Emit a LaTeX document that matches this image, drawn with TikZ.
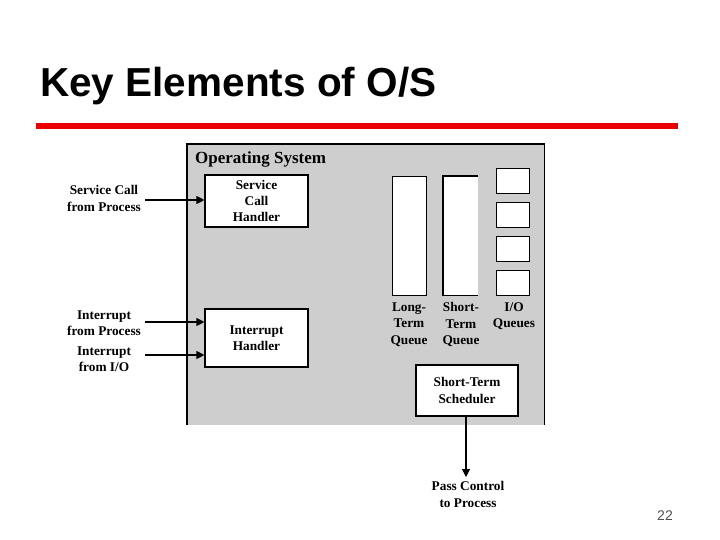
\documentclass[tikz,border=0pt]{standalone}
\usepackage{fontspec}
\setmainfont{Liberation Serif}
\setsansfont{Liberation Sans}
\usetikzlibrary{arrows.meta}
\definecolor{osgray}{RGB}{206,206,206}
\definecolor{barred}{RGB}{235,0,0}
\definecolor{numgray}{RGB}{80,80,80}
\tikzset{
  box/.style={draw=black, fill=white, line width=1.1pt, inner sep=0pt},
  lbl/.style={font=\bfseries\fontsize{13.3}{16.3}\selectfont, align=center, inner sep=0pt},
  arr/.style={line width=1.1pt, -{Triangle[length=8pt,width=8pt]}},
}
\begin{document}
\begin{tikzpicture}[x=1pt,y=-1pt]
\useasboundingbox (0,0) rectangle (720,540);
% title
\node[anchor=base west, inner sep=0pt, font=\sffamily\bfseries\fontsize{40.5}{44}\selectfont] (title) at (40,97) {Key Elements of O/S};
\node[fill=barred, minimum width=642pt, minimum height=6pt, inner sep=0pt, anchor=north west] (bar) at (36,123) {};
% OS panel
\node[fill=osgray, minimum width=357pt, minimum height=281pt, inner sep=0pt, anchor=north west] (os) at (187,144) {};
\draw[line width=1.4pt] (os.south west) -- (os.north west) -- (os.north east) -- (os.south east);
\node[anchor=base west, inner sep=0pt, font=\bfseries\fontsize{17}{20}\selectfont] (ostitle) at (195,164) {Operating System};
% handlers
\node[box, minimum width=103pt, minimum height=52pt, lbl] (sch) at (256.5,201) {Service\\Call\\Handler};
\node[box, minimum width=103pt, minimum height=58pt, lbl] (ih) at (256.5,338) {Interrupt\\Handler};
% queues
\node[box, minimum width=34pt, minimum height=119pt, anchor=north west] (ltq) at (392,176) {};
\node[fill=white, minimum width=35pt, minimum height=119pt, inner sep=0pt, anchor=north west] (stq) at (443,176) {};
\draw[line width=1.1pt] (stq.north east) -- (stq.north west) -- (stq.south west) -- (stq.south east);
\node[box, minimum width=33pt, minimum height=25pt, anchor=north west] (io1) at (496,168) {};
\node[box, minimum width=33pt, minimum height=25pt, anchor=north west] (io2) at (496,202) {};
\node[box, minimum width=33pt, minimum height=25pt, anchor=north west] (io3) at (496,236) {};
\node[box, minimum width=33pt, minimum height=25pt, anchor=north west] (io4) at (496,270) {};
\node[lbl] (ltql) at (409,324.5) {Long-\\Term\\Queue};
\node[lbl] (stql) at (461,324.5) {Short-\\Term\\Queue};
\node[lbl] (iol) at (514,316.5) {I/O\\Queues};
% scheduler
\node[box, minimum width=102pt, minimum height=51pt, lbl] (sts) at (467,390.5) {Short-Term\\Scheduler};
% outside labels
\node[lbl] (scl) at (104,198.5) {Service Call\\from Process};
\node[lbl] (ipl) at (104,323) {Interrupt\\from Process};
\node[lbl] (iol2) at (104,359) {Interrupt\\from I/O};
\node[lbl] (pcl) at (468,494.5) {Pass Control\\to Process};
\coordinate (a1) at (145,200);
\coordinate (a2) at (145,322);
\coordinate (a3) at (145,355);
\draw[arr] (a1) -- (a1 -| sch.west);
\draw[arr] (a2) -- (a2 -| ih.west);
\draw[arr] (a3) -- (a3 -| ih.west);
\coordinate (pc) at (466,477);
\draw[arr] (sts.south -| pc) -- (pc);
% page number
\node[anchor=base east, inner sep=0pt, text=numgray, font=\sffamily\fontsize{14}{16}\selectfont] (pg) at (673,520) {22};
\end{tikzpicture}
\end{document}
